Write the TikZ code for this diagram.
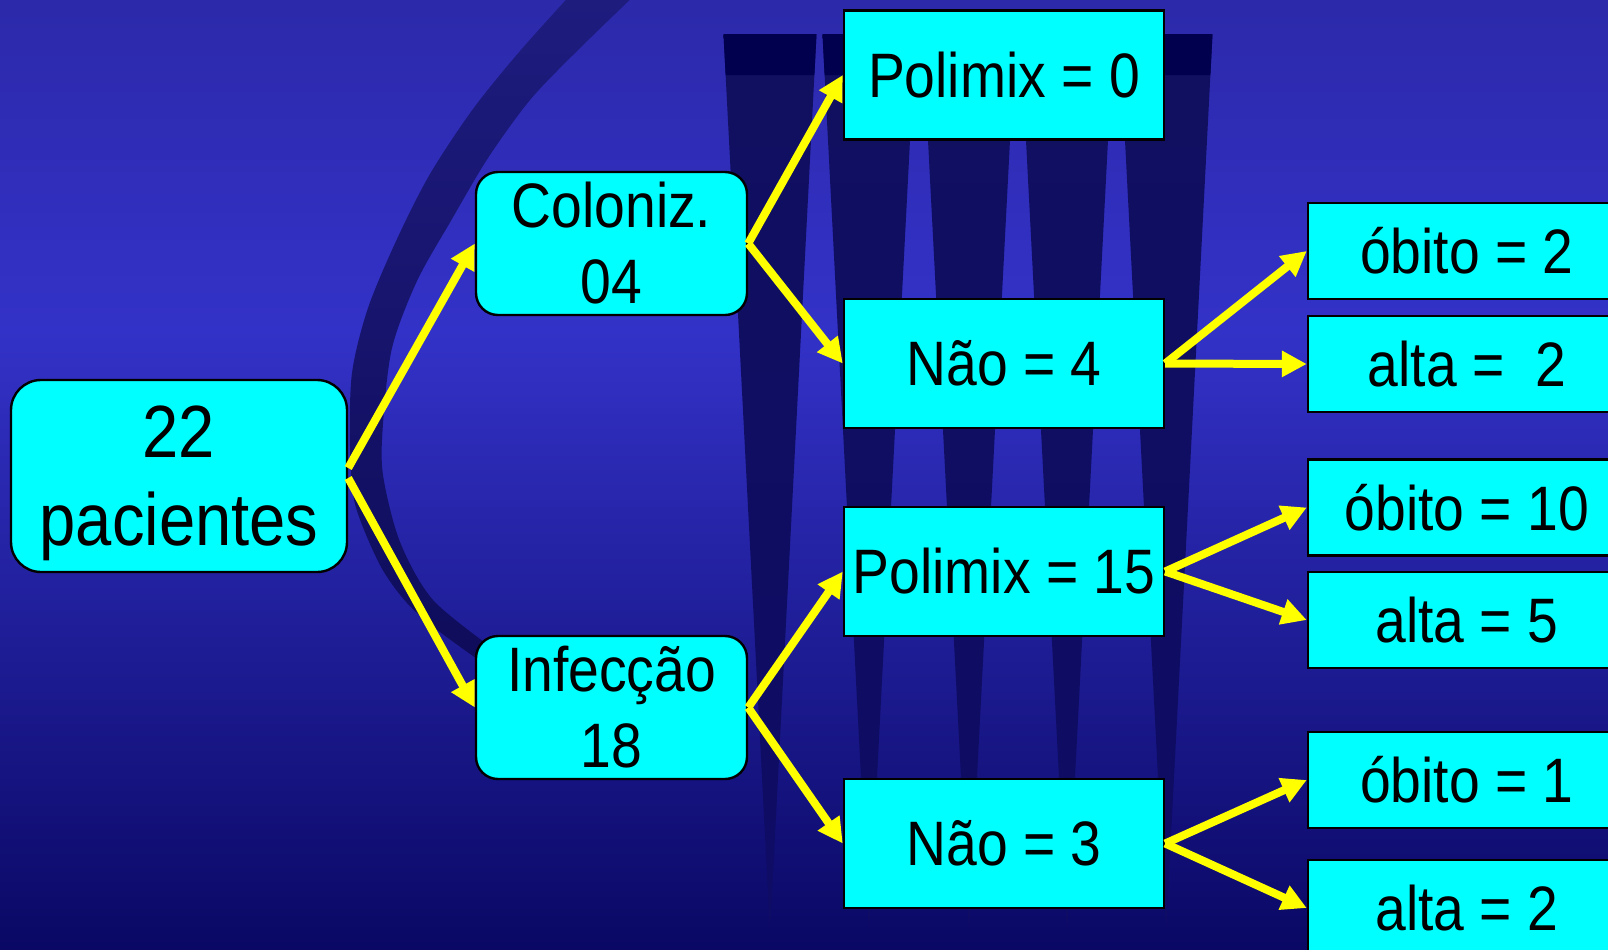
\documentclass[tikz,border=0pt]{standalone}
\usepackage{fontspec}
\setmainfont[FakeStretch=0.88]{Liberation Sans}
\usetikzlibrary{arrows.meta}
\definecolor{bgtop}{RGB}{44,41,170}
\definecolor{bgmid}{RGB}{51,50,200}
\definecolor{bglow}{RGB}{33,31,155}
\definecolor{bgbot}{RGB}{10,8,100}
\definecolor{boxcyan}{RGB}{0,255,255}
\definecolor{linkyellow}{RGB}{255,255,0}
\definecolor{wedgetop}{RGB}{17,15,96}
\definecolor{wedgemid}{RGB}{38,35,156}
\definecolor{wedgebot}{RGB}{14,12,100}
\definecolor{wedgecap}{RGB}{0,0,78}
\definecolor{bandtop}{RGB}{30,28,126}
\definecolor{bandmid}{RGB}{42,40,168}
\definecolor{bandbot}{RGB}{14,12,90}
\begin{document}
\begin{tikzpicture}[x=0.5pt, y=-0.5pt,
    box/.style={draw=black, line width=1.2pt, fill=boxcyan, inner sep=0pt, align=center,
      font=\fontsize{31.4}{38}\selectfont},
    roundbox/.style={box, rounded corners=11pt, minimum width=135.5pt, minimum height=71.5pt},
    midbox/.style={box, minimum width=160pt, minimum height=64.5pt},
    endbox/.style={box, minimum width=159pt, minimum height=48pt},
    link/.style={-{Triangle[length=12.5pt,width=12.5pt]}, draw=linkyellow, line width=4pt}]
    \useasboundingbox (0,0) rectangle (1608,949);
    \clip (0,0) rectangle (1608,949);
    %background
    \shade[top color=bgtop, bottom color=bgmid] (0,0) rectangle (1608,331);
    \shade[top color=bgmid, middle color=bglow, bottom color=bgbot] (0,330) rectangle (1608,949);
    \shade[top color=bandtop, middle color=bandmid, bottom color=bandbot]
        plot[smooth] coordinates {(575,-10) (520,51) (473,109) (430,174) (397,239) (368,308)
            (352,373) (350,446) (355,504) (380,565) (407,603) (440,632) (490,668)}
        -- plot[smooth] coordinates {(495,650) (433,600) (400,542) (383,475) (383,424)
            (392,348) (417,281) (452,219) (488,158) (530,100) (577,51) (640,-10)} -- cycle;
    \foreach \c in {770,869,969,1067,1166}{
        \shade[top color=wedgetop, middle color=wedgemid, bottom color=wedgebot]
            (\c-46.5,34) -- (\c+46.5,34) -- (\c,932) -- cycle;
        \fill[wedgecap] (\c-46.5,34) -- (\c+46.5,34) -- (\c+44.4,75) -- (\c-44.4,75) -- cycle;
    }
    %nodes
    \node[box, rounded corners=15pt, minimum width=168pt, minimum height=96pt, text depth=0pt,
        font=\fontsize{37}{44}\selectfont] at (179,476) (total) {22\\pacientes};
    \node[roundbox] at (611.5,243.5) (coloniz) {Coloniz.\\04};
    \node[roundbox] at (611.5,707.5) (infec) {Infecção\\18};
    \node[midbox] at (1004,75) (polzero) {Polimix = 0};
    \node[midbox] at (1004,363.5) (naocol) {Não = 4};
    \node[midbox] at (1004,571.5) (polquinze) {Polimix = 15};
    \node[midbox] at (1004,843.5) (naoinf) {Não = 3};
    \node[endbox] at (1467,251) (obitoa) {óbito = 2};
    \node[endbox] at (1467,364) (altaa) {alta = \ 2};
    \node[endbox] at (1467,507.5) (obitob) {óbito = 10};
    \node[endbox] at (1467,620) (altab) {alta = 5};
    \node[endbox] at (1467,780) (obitoc) {óbito = 1};
    \node[endbox] at (1467,908) (altac) {alta = 2};
    \path
        ([yshift=4pt]total.east) edge[link] (coloniz.west)
        ([yshift=-1pt]total.east) edge[link] (infec.west)
        (coloniz.east) edge[link] (polzero.west)
        (coloniz.east) edge[link] (naocol.west)
        (infec.east) edge[link] (polquinze.west)
        (infec.east) edge[link] (naoinf.west)
        (naocol.east) edge[link] (obitoa.west)
        (naocol.east) edge[link] (altaa.west)
        (polquinze.east) edge[link] (obitob.west)
        (polquinze.east) edge[link] (altab.west)
        (naoinf.east) edge[link] (obitoc.west)
        (naoinf.east) edge[link] (altac.west);
\end{tikzpicture}
\end{document}
